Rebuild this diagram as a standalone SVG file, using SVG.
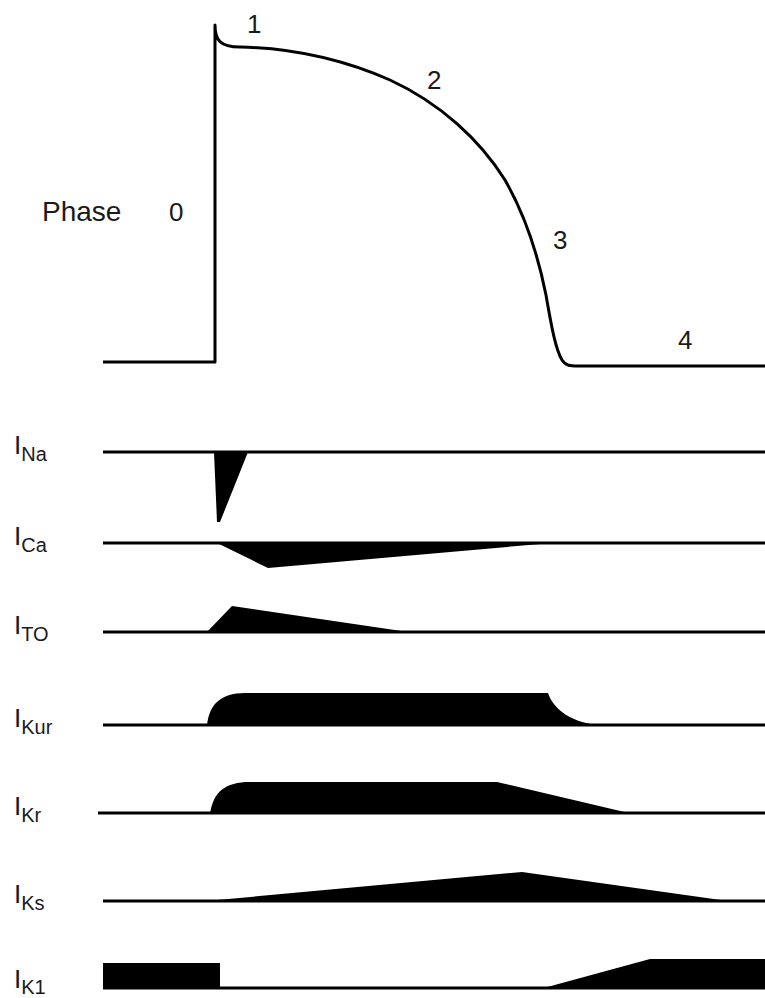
<svg xmlns="http://www.w3.org/2000/svg" width="765" height="998" viewBox="0 0 765 998">
<style>
.ln{stroke:#000;stroke-width:3;fill:none}
.ap{stroke:#000;stroke-width:3;fill:none;stroke-linejoin:round}
.sh{fill:#000;stroke:none}
.t{font-family:"Liberation Sans",Arial,sans-serif;fill:#1a1a1a}
.big{font-size:26px}
.ph{font-size:28px}
.sub{font-size:20px}
</style>
<rect width="765" height="998" fill="#fff"/>
<g id="action-potential">
<path class="ap" d="M103,362 L215,362 L215,25 C215,40 220,47 240,47 C290,48 340,58 390,80 C440,103 480,140 505,180 C525,215 538,255 546,295 C552,330 556,350 562,360 C566,366 570,366 578,366 L765,366"/>
</g>
<g id="phase-labels">
<text class="t ph" x="42" y="221">Phase</text>
<text class="t big" x="169" y="221">0</text>
<text class="t big" x="247" y="33">1</text>
<text class="t big" x="427" y="89">2</text>
<text class="t big" x="553" y="249">3</text>
<text class="t big" x="678" y="349">4</text>
</g>
<g id="connectors">
<line class="ln" x1="103" y1="452" x2="765" y2="452"/>
<line class="ln" x1="103" y1="543" x2="765" y2="543"/>
<line class="ln" x1="103" y1="632" x2="765" y2="632"/>
<line class="ln" x1="103" y1="725" x2="765" y2="725"/>
<line class="ln" x1="98" y1="813" x2="765" y2="813"/>
<line class="ln" x1="103" y1="901" x2="765" y2="901"/>
<line class="ln" x1="103" y1="988" x2="765" y2="988"/>
</g>
<g id="INa">
<text class="t big" x="14" y="454">I<tspan class="sub" dy="7">Na</tspan></text>
<polygon class="sh" points="214,452 217,522 220,522 248,452"/>
</g>
<g id="ICa">
<text class="t big" x="14" y="545">I<tspan class="sub" dy="7">Ca</tspan></text>
<polygon class="sh" points="217,543 268,568 552,543"/>
</g>
<g id="ITO">
<text class="t big" x="14" y="634">I<tspan class="sub" dy="7">TO</tspan></text>
<polygon class="sh" points="206,633 232,606 415,633"/>
</g>
<g id="IKur">
<text class="t big" x="14" y="727">I<tspan class="sub" dy="7">Kur</tspan></text>
<path class="sh" d="M207,726 C209,705 220,693 245,693 L548,693 C553,708 570,725 610,726 Z"/>
</g>
<g id="IKr">
<text class="t big" x="14" y="815">I<tspan class="sub" dy="7">Kr</tspan></text>
<path class="sh" d="M210,814 C213,792 225,782 250,782 L497,782 L633,814 Z"/>
</g>
<g id="IKs">
<text class="t big" x="14" y="903">I<tspan class="sub" dy="7">Ks</tspan></text>
<polygon class="sh" points="195,902 522,872 735,902"/>
</g>
<g id="IK1">
<text class="t big" x="14" y="988">I<tspan class="sub" dy="6">K1</tspan></text>
<rect class="sh" x="103" y="963" width="117" height="26"/>
<polygon class="sh" points="540,989 650,959 765,959 765,989"/>
</g>
</svg>
